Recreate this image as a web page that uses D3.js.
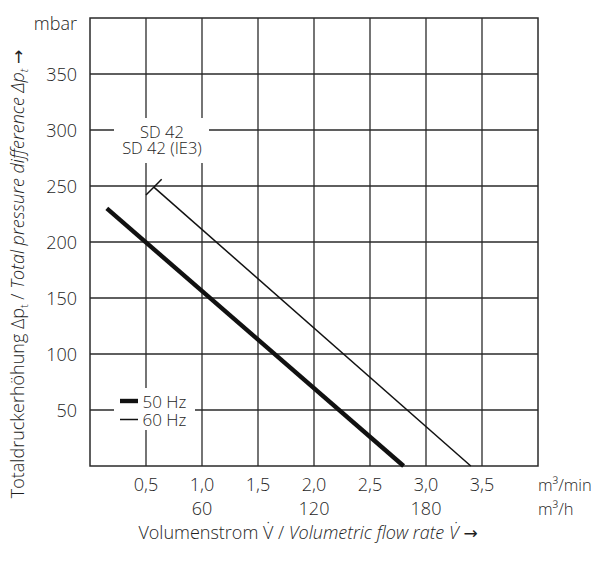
<!DOCTYPE html>
<html><head><meta charset="utf-8">
<script src="https://cdn.jsdelivr.net/npm/d3@7"></script>
<style>
html,body{margin:0;padding:0;background:#fff;}
text{font-family:"Open Sans",sans-serif;fill:#1e1e1e;font-weight:300;}
.arr{font-family:"DejaVu Sans",sans-serif;font-style:normal;font-weight:400;}
</style></head>
<body><svg id="c" width="616" height="562"></svg>
<script>
// ---- data ----
const xTickValues = [0.5, 1.0, 1.5, 2.0, 2.5, 3.0, 3.5];
const xTickLabels = ["0,5", "1,0", "1,5", "2,0", "2,5", "3,0", "3,5"];
const xTickValuesH = [60, 120, 180];           // m³/h
const yTickValues = [50, 100, 150, 200, 250, 300, 350];
const series50Hz = [[0.15, 230], [2.8, 0]];    // m³/min, mbar
const series60Hz = [[0.57, 249], [3.4, 0]];
const leaderTick = [[0.5, 242], [0.64, 256]];
const modelLabels = ["SD 42", "SD 42 (IE3)"];
const legendLabels = ["50 Hz", "60 Hz"];

// ---- layout ----
const svg = d3.select("#c");
const x = d3.scaleLinear().domain([0, 4]).range([90, 538]);
const y = d3.scaleLinear().domain([0, 400]).range([466, 18]);
const grid = "#2a2a2a";
const fs = 18;

const g = svg.append("g");
// grid
g.selectAll(".vg").data(xTickValues).join("line")
  .attr("x1", d => x(d)).attr("x2", d => x(d)).attr("y1", y(0)).attr("y2", y(400))
  .attr("stroke", grid).attr("stroke-width", 1.3);
g.selectAll(".hg").data(yTickValues).join("line")
  .attr("x1", x(0)).attr("x2", x(4)).attr("y1", d => y(d)).attr("y2", d => y(d))
  .attr("stroke", grid).attr("stroke-width", 1.3);
// frame
g.append("rect").attr("x", x(0)).attr("y", y(400)).attr("width", x(4) - x(0)).attr("height", y(0) - y(400))
  .attr("fill", "none").attr("stroke", grid).attr("stroke-width", 1.5);

// white boxes
g.append("rect").attr("x", 114).attr("y", 118).attr("width", 95).attr("height", 45).attr("fill", "#fff");
g.append("rect").attr("x", 114).attr("y", 388).attr("width", 81).attr("height", 42).attr("fill", "#fff");

// lines
const line = d3.line().x(d => x(d[0])).y(d => y(d[1]));
g.append("path").attr("d", line(series50Hz)).attr("stroke", "#111").attr("stroke-width", 4.4).attr("fill", "none");
g.append("path").attr("d", line(series60Hz)).attr("stroke", "#111").attr("stroke-width", 1.5).attr("fill", "none");
g.append("path").attr("d", line(leaderTick)).attr("stroke", "#111").attr("stroke-width", 1.5).attr("fill", "none");

// model label (one text, two lines)
const ml = g.append("text").attr("text-anchor", "middle").attr("font-size", 16.5);
ml.selectAll("tspan").data(modelLabels).join("tspan")
  .attr("x", 162).attr("y", (d, i) => 137.5 + i * 16.5).text(d => d);

// legend
const legW = [4.4, 1.5];
legendLabels.forEach((t, i) => {
  const yy = 401 + i * 18.5;
  g.append("line").attr("x1", 120).attr("x2", 138).attr("y1", yy).attr("y2", yy)
    .attr("stroke", "#111").attr("stroke-width", legW[i]);
});
const lt = g.append("text").attr("font-size", 17);
lt.selectAll("tspan").data(legendLabels).join("tspan")
  .attr("x", 142.5).attr("y", (d, i) => 407.5 + i * 18.5).text(d => d);

// y tick labels
g.selectAll(".yl").data(yTickValues).join("text")
  .attr("x", 77).attr("y", d => y(d) + 6.5).attr("text-anchor", "end")
  .attr("font-size", fs).text(d => d);
g.append("text").attr("x", 77).attr("y", 30).attr("text-anchor", "end")
  .attr("font-size", fs).text("mbar");

// x tick labels
g.selectAll(".xl").data(xTickValues).join("text")
  .attr("x", d => x(d)).attr("y", 490.5).attr("text-anchor", "middle")
  .attr("font-size", fs).text((d, i) => xTickLabels[i]);
g.append("text").attr("x", 538).attr("y", 490.5)
  .attr("font-size", 16.5).text("m³/min");
g.selectAll(".xh").data(xTickValuesH).join("text")
  .attr("x", d => x(d / 60)).attr("y", 514.5).attr("text-anchor", "middle")
  .attr("font-size", fs).text(d => d);
g.append("text").attr("x", 538).attr("y", 514.5)
  .attr("font-size", 16.5).text("m³/h");

// x axis title
const xt = g.append("text").attr("x", 308).attr("y", 538.5).attr("text-anchor", "middle")
  .attr("font-size", fs);
xt.append("tspan").text("Volumenstrom V\u0307 / ");
xt.append("tspan").attr("font-style", "italic").text("Volumetric flow rate V\u0307");
xt.append("tspan").text(" ");
xt.append("tspan").attr("class", "arr").attr("font-size", 17).text("\u2192");

// y axis title
const yt = g.append("text").attr("transform", "translate(24,274) rotate(-90)").attr("text-anchor", "middle")
  .attr("font-size", fs);
yt.append("tspan").text("Totaldruckerhöhung \u0394p");
yt.append("tspan").attr("font-size", 11).attr("dy", 4).text("t");
yt.append("tspan").attr("dy", -4).text(" / ");
yt.append("tspan").attr("font-style", "italic").text("Total pressure difference \u0394p");
yt.append("tspan").attr("font-style", "italic").attr("font-size", 11).attr("dy", 4).text("t");
yt.append("tspan").attr("dy", -4).text(" ");
yt.append("tspan").attr("class", "arr").attr("font-size", 17).text("\u2192");
</script></body></html>
